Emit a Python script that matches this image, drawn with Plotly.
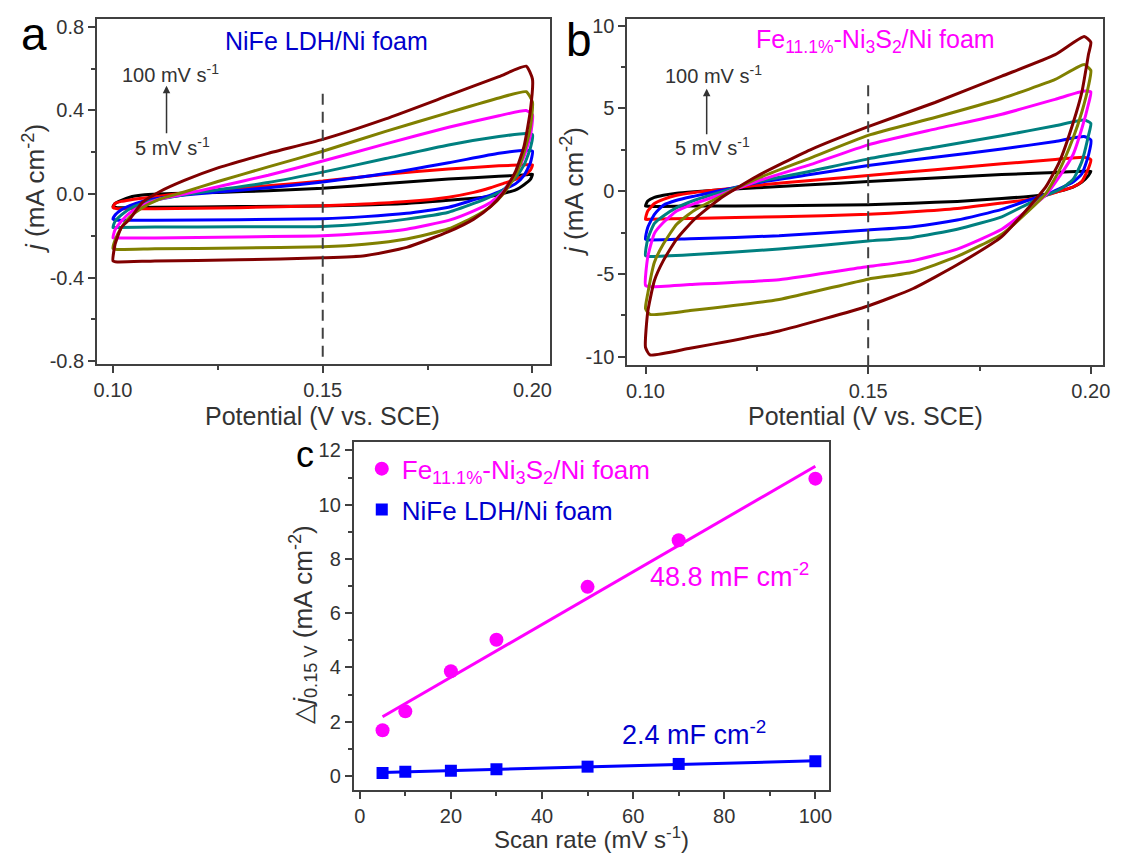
import numpy as np
import plotly.graph_objects as go

W, H = 1123, 863
FONT = "Liberation Sans, Arial, sans-serif"
AXC = "#404040"
TXT = "#333333"

# ---------------- data ----------------
# potential grid of the anodic (forward) and cathodic (reverse) sweeps, V vs. SCE
V_fwd = [0.100, 0.1005, 0.102, 0.104, 0.107, 0.111, 0.117, 0.125, 0.137, 0.150, 0.165, 0.180, 0.192, 0.1985]
V_rev = [0.200, 0.1995, 0.198, 0.196, 0.193, 0.190, 0.186, 0.180, 0.170, 0.160, 0.150, 0.130, 0.110, 0.101]

scan_rates = [5, 10, 20, 30, 50, 70, 100]
curve_colors = ["#000000", "#FF0000", "#0000FF", "#008080", "#FF00FF", "#808000", "#800000"]

# panel a: NiFe LDH/Ni foam, current density (mA cm-2)
a_fwd_5 = [-0.060, -0.045, -0.030, -0.015, -0.005, 0.000, 0.004, 0.008, 0.016, 0.028, 0.050, 0.072, 0.085, 0.092]
a_rev_5 = [0.095, 0.070, 0.045, 0.020, 0.003, -0.010, -0.020, -0.030, -0.045, -0.052, -0.057, -0.060, -0.063, -0.065]
a_fwd_10 = [-0.065, -0.045, -0.035, -0.028, -0.020, -0.010, 0.005, 0.020, 0.040, 0.062, 0.095, 0.120, 0.135, 0.140]
a_rev_10 = [0.140, 0.115, 0.090, 0.070, 0.050, 0.030, 0.008, -0.015, -0.036, -0.048, -0.056, -0.065, -0.070, -0.070]
a_fwd_20 = [-0.120, -0.100, -0.075, -0.055, -0.035, -0.020, -0.005, 0.010, 0.030, 0.058, 0.098, 0.150, 0.195, 0.210]
a_rev_20 = [0.205, 0.150, 0.090, 0.050, 0.020, -0.005, -0.028, -0.063, -0.092, -0.108, -0.118, -0.123, -0.125, -0.125]
a_fwd_30 = [-0.160, -0.130, -0.100, -0.070, -0.045, -0.025, -0.003, 0.020, 0.055, 0.105, 0.170, 0.235, 0.275, 0.290]
a_rev_30 = [0.285, 0.220, 0.140, 0.080, 0.020, -0.012, -0.045, -0.087, -0.120, -0.142, -0.155, -0.157, -0.158, -0.160]
a_fwd_50 = [-0.210, -0.170, -0.130, -0.090, -0.055, -0.025, 0.000, 0.035, 0.090, 0.158, 0.240, 0.320, 0.375, 0.400]
a_rev_50 = [0.380, 0.280, 0.180, 0.100, 0.010, -0.040, -0.080, -0.126, -0.168, -0.188, -0.200, -0.205, -0.210, -0.210]
a_fwd_70 = [-0.260, -0.220, -0.160, -0.110, -0.065, -0.025, 0.010, 0.060, 0.130, 0.205, 0.300, 0.390, 0.460, 0.490]
a_rev_70 = [0.440, 0.320, 0.200, 0.090, 0.000, -0.060, -0.110, -0.166, -0.215, -0.240, -0.252, -0.258, -0.262, -0.265]
a_fwd_100 = [-0.320, -0.240, -0.160, -0.120, -0.040, 0.010, 0.065, 0.125, 0.195, 0.262, 0.360, 0.472, 0.562, 0.612]
a_rev_100 = [0.550, 0.400, 0.230, 0.110, 0.005, -0.060, -0.120, -0.180, -0.255, -0.295, -0.305, -0.315, -0.320, -0.325]

# panel b: Fe11.1%-Ni3S2/Ni foam, current density (mA cm-2)
b_fwd_5 = [-0.90, -0.60, -0.38, -0.25, -0.12, -0.03, 0.08, 0.20, 0.38, 0.58, 0.80, 1.00, 1.13, 1.20]
b_rev_5 = [1.20, 0.95, 0.55, 0.25, 0.00, -0.18, -0.32, -0.45, -0.62, -0.73, -0.82, -0.88, -0.90, -0.92]
b_fwd_10 = [-1.70, -1.20, -0.75, -0.50, -0.25, -0.08, 0.10, 0.35, 0.65, 0.95, 1.30, 1.65, 1.92, 2.05]
b_rev_10 = [1.90, 1.40, 0.60, 0.25, 0.00, -0.25, -0.50, -0.72, -1.05, -1.25, -1.40, -1.55, -1.65, -1.70]
b_fwd_20 = [-2.90, -2.20, -1.40, -0.85, -0.55, -0.30, 0.05, 0.50, 1.00, 1.55, 2.05, 2.55, 3.00, 3.30]
b_rev_20 = [3.10, 2.20, 1.05, 0.55, 0.15, -0.20, -0.55, -1.10, -1.75, -2.15, -2.35, -2.70, -2.88, -2.95]
b_fwd_30 = [-3.90, -2.90, -1.95, -1.50, -1.00, -0.55, -0.05, 0.55, 1.20, 1.95, 2.65, 3.35, 3.95, 4.30]
b_rev_30 = [4.10, 3.40, 1.80, 0.70, 0.10, -0.25, -0.75, -1.55, -2.30, -2.80, -3.02, -3.50, -3.85, -3.95]
b_fwd_50 = [-5.70, -4.00, -2.55, -1.90, -1.20, -0.75, -0.20, 0.60, 1.60, 2.80, 3.75, 4.65, 5.55, 6.05]
b_rev_50 = [6.00, 5.30, 3.80, 2.20, 0.90, -0.20, -1.10, -2.30, -3.50, -4.20, -4.56, -5.35, -5.65, -5.78]
b_fwd_70 = [-7.10, -6.20, -4.30, -3.20, -2.00, -1.15, -0.30, 0.75, 2.00, 3.37, 4.45, 5.60, 6.75, 7.65]
b_rev_70 = [7.30, 6.40, 4.80, 3.20, 1.30, -0.10, -1.20, -2.60, -3.95, -4.90, -5.32, -6.55, -7.22, -7.45]
b_fwd_100 = [-9.45, -7.30, -5.40, -4.20, -2.90, -1.70, -0.40, 0.90, 2.50, 3.90, 5.36, 6.95, 8.25, 9.35]
b_rev_100 = [9.00, 8.30, 6.00, 4.10, 1.80, 0.30, -1.00, -2.75, -4.45, -5.90, -6.94, -8.45, -9.50, -9.90]

a_fwd = [a_fwd_5, a_fwd_10, a_fwd_20, a_fwd_30, a_fwd_50, a_fwd_70, a_fwd_100]
a_rev = [a_rev_5, a_rev_10, a_rev_20, a_rev_30, a_rev_50, a_rev_70, a_rev_100]
b_fwd = [b_fwd_5, b_fwd_10, b_fwd_20, b_fwd_30, b_fwd_50, b_fwd_70, b_fwd_100]
b_rev = [b_rev_5, b_rev_10, b_rev_20, b_rev_30, b_rev_50, b_rev_70, b_rev_100]

ref_potential = 0.15          # potential of the dashed line
dash_top_a = 0.48             # upper end of dashed line, panel a (mA cm-2)
dash_top_b = 6.4              # upper end of dashed line, panel b (mA cm-2)

# panel c: delta j at 0.15 V vs. scan rate
scan_rate_c = [5, 10, 20, 30, 50, 70, 100]
dj_fe = [1.68, 2.38, 3.86, 5.02, 6.97, 8.69, 10.96]
dj_nife = [0.11, 0.15, 0.19, 0.24, 0.34, 0.44, 0.54]

# tick labels
a_xticks = [0.10, 0.15, 0.20]
a_xticktext = ["0.10", "0.15", "0.20"]
a_yticks = [-0.8, -0.4, 0.0, 0.4, 0.8]
a_yticktext = ["-0.8", "-0.4", "0.0", "0.4", "0.8"]
b_yticks = [-10, -5, 0, 5, 10]
b_yticktext = ["-10", "-5", "0", "5", "10"]
c_xticks = [0, 20, 40, 60, 80, 100]
c_xticktext = ["0", "20", "40", "60", "80", "100"]
c_yticks = [0, 2, 4, 6, 8, 10, 12]
c_yticktext = ["0", "2", "4", "6", "8", "10", "12"]

# ---------------- figure ----------------
fig = go.Figure()


def loop(fwd, rev):
    xs = V_fwd + V_rev + [V_fwd[0]]
    ys = fwd + rev + [fwd[0]]
    return xs, ys


for i in range(len(scan_rates)):
    xs, ys = loop(a_fwd[i], a_rev[i])
    fig.add_trace(go.Scatter(x=xs, y=ys, mode="lines", xaxis="x", yaxis="y",
                             line=dict(color=curve_colors[i], width=3, shape="spline", smoothing=0.5),
                             showlegend=False, hoverinfo="skip"))
for i in range(len(scan_rates)):
    xs, ys = loop(b_fwd[i], b_rev[i])
    fig.add_trace(go.Scatter(x=xs, y=ys, mode="lines", xaxis="x2", yaxis="y2",
                             line=dict(color=curve_colors[i], width=3, shape="spline", smoothing=0.5),
                             showlegend=False, hoverinfo="skip"))

ya_range = [-0.811, 0.839]
yb_range = [-10.52, 10.42]
fig.add_trace(go.Scatter(x=[ref_potential, ref_potential], y=[dash_top_a, ya_range[0]],
                         mode="lines", xaxis="x", yaxis="y",
                         line=dict(color="#404040", width=2, dash="11px,7px"),
                         showlegend=False, hoverinfo="skip"))
fig.add_trace(go.Scatter(x=[ref_potential, ref_potential], y=[dash_top_b, yb_range[0]],
                         mode="lines", xaxis="x2", yaxis="y2",
                         line=dict(color="#404040", width=2, dash="11px,7px"),
                         showlegend=False, hoverinfo="skip"))

# panel c: linear fits
sr = np.array(scan_rate_c, dtype=float)
k_fe, b_fe = np.polyfit(sr, np.array(dj_fe), 1)
k_ni, b_ni = np.polyfit(sr, np.array(dj_nife), 1)
x_fit = np.array([sr.min(), sr.max()])
fig.add_trace(go.Scatter(x=x_fit, y=k_fe * x_fit + b_fe, mode="lines", xaxis="x3", yaxis="y3",
                         line=dict(color="#FF00FF", width=3), showlegend=False, hoverinfo="skip"))
fig.add_trace(go.Scatter(x=sr, y=k_ni * sr + b_ni, mode="lines", xaxis="x3", yaxis="y3",
                         line=dict(color="#0000FF", width=3), showlegend=False, hoverinfo="skip"))
fig.add_trace(go.Scatter(x=scan_rate_c, y=dj_fe, mode="markers", xaxis="x3", yaxis="y3",
                         marker=dict(symbol="circle", size=14, color="#FF00FF"),
                         name="<span style='color:#FF00FF'>Fe<sub>11.1%</sub>-Ni<sub>3</sub>S<sub>2</sub>/Ni foam</span>",
                         legendgroup="fe"))
fig.add_trace(go.Scatter(x=scan_rate_c, y=dj_nife, mode="markers", xaxis="x3", yaxis="y3",
                         marker=dict(symbol="square", size=12, color="#0000FF"),
                         name="<span style='color:#0000CC'>NiFe LDH/Ni foam</span>",
                         legendgroup="ni"))


def axis(domain, rng, anchor, tickvals, ticktext, minor_vals):
    return dict(domain=domain, range=rng, anchor=anchor, showline=True, linecolor=AXC,
                linewidth=2, mirror=True, ticks="outside", ticklen=7, tickwidth=1.8,
                tickcolor=AXC, showgrid=False, zeroline=False, tickmode="array",
                tickvals=tickvals, ticktext=ticktext,
                tickfont=dict(family=FONT, size=20, color=TXT),
                minor=dict(ticks="outside", ticklen=4, tickwidth=1.5, tickcolor=AXC,
                           tickvals=minor_vals, showgrid=False))


def px_x(x):
    return x / W


def px_y(y):
    return 1 - y / H


fig.update_layout(
    width=W, height=H, autosize=False,
    margin=dict(l=0, r=0, t=0, b=0),
    paper_bgcolor="white", plot_bgcolor="white",
    font=dict(family=FONT, color=TXT),
    xaxis=axis([px_x(95), px_x(552)], [0.09622, 0.2042], "y", a_xticks, a_xticktext, [0.125, 0.175]),
    yaxis=axis([px_y(365), px_y(15)], ya_range, "x", a_yticks, a_yticktext, [-0.6, -0.2, 0.2, 0.6]),
    xaxis2=axis([px_x(630), px_x(1110)], [0.09593, 0.20276], "y2", a_xticks, a_xticktext, [0.125, 0.175]),
    yaxis2=axis([px_y(366.7), px_y(15)], yb_range, "x2", b_yticks, b_yticktext, [-7.5, -2.5, 2.5, 7.5]),
    xaxis3=axis([px_x(354), px_x(833)], [-1.3, 102.9], "y3", c_xticks, c_xticktext, [10, 30, 50, 70, 90]),
    yaxis3=axis([px_y(798), px_y(445)], [-0.52, 12.3], "x3", c_yticks, c_yticktext, [1, 3, 5, 7, 9, 11]),
    legend=dict(x=px_x(362), y=px_y(448), xanchor="left", yanchor="top",
                bgcolor="rgba(0,0,0,0)", font=dict(family=FONT, size=26),
                tracegroupgap=4, itemsizing="trace"),
    showlegend=True,
)

ann = []


def text(x, y, s, size, color=TXT, angle=0):
    ann.append(dict(x=px_x(x), y=px_y(y), xref="paper", yref="paper", text=s,
                    showarrow=False, textangle=angle, xanchor="center", yanchor="middle",
                    font=dict(family=FONT, size=size, color=color)))


# panel letters
text(31, 30, "a", 46, "#000000")
text(581, 37, "b", 46, "#000000")
text(305, 457, "c", 36, "#000000")
# panel headings
text(326, 38, "NiFe LDH/Ni foam", 25, "#0000CC")
text(880, 38, "Fe<sub>11.1%</sub>-Ni<sub>3</sub>S<sub>2</sub>/Ni foam", 25, "#FF00FF")
# scan-rate arrows
text(169, 71, "100 mV s<sup>-1</sup>", 20)
text(171, 145, "5 mV s<sup>-1</sup>", 20)
text(717, 72, "100 mV s<sup>-1</sup>", 20)
text(716, 145, "5 mV s<sup>-1</sup>", 20)
for (xa, yt, yb) in [(165, 83, 132), (710, 86, 133)]:
    ann.append(dict(x=px_x(xa), y=px_y(yt), xref="paper", yref="paper", ax=0, ay=yb - yt,
                    axref="pixel", ayref="pixel", text="", showarrow=True, arrowhead=2,
                    arrowsize=1, arrowwidth=1.5, arrowcolor=TXT))
# axis titles
text(31, 187, "<i>j</i> (mA cm<sup>-2</sup>)", 26, angle=-90)
text(574, 190, "<i>j</i> (mA cm<sup>-2</sup>)", 26, angle=-90)
text(322, 418, "Potential (V vs. SCE)", 25)
text(870, 418, "Potential (V vs. SCE)", 25)
text(302, 630, "△<i>j</i><sub>0.15 V</sub> (mA cm<sup>-2</sup>)", 26, angle=-90)
text(594, 847, "Scan rate (mV s<sup>-1</sup>)", 24)
# capacitance labels
text(733, 580, "48.8 mF cm<sup>-2</sup>", 27, "#FF00FF")
text(697, 740, "2.4 mF cm<sup>-2</sup>", 27, "#0000CC")

fig.update_layout(annotations=ann)
fig.write_html(
    "out.html",
    config={"displayModeBar": False},
    post_script="document.documentElement.style.margin='0';document.body.style.margin='0';"
                "document.body.style.padding='0';document.body.style.overflow='hidden';",
)
